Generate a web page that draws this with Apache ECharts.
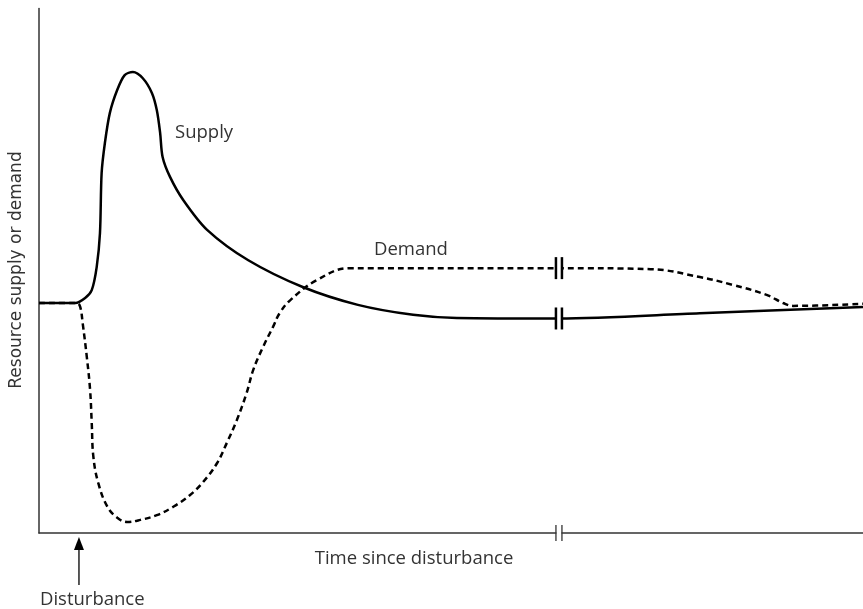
<!DOCTYPE html>
<html>
<head>
<meta charset="utf-8">
<script src="https://cdn.jsdelivr.net/npm/echarts@6/dist/echarts.min.js"></script>
<style>
html,body{margin:0;padding:0;background:#fff;}
#chart{width:863px;height:609px;}
</style>
</head>
<body>
<div id="chart"></div>
<script>
// ---- data (arbitrary units: time 0..100, level 0..100) ----
const supplyTime = [0, 4.4, 5.6, 6.4, 7.0, 7.4, 7.6, 8.0, 8.6, 9.5, 10.4, 11.4, 12.6, 13.7, 14.3, 14.7, 15.0, 15.9, 17.5, 20.4, 25.4, 32.0, 38.7, 45.4, 50.7, 63.1, 80.2, 100];
const supplyLevel = [43.85, 43.85, 44.8, 46.3, 50.7, 57.2, 68.6, 74.4, 80.1, 84.5, 87.3, 87.9, 86.7, 83.9, 80.6, 76.3, 71.7, 67.9, 63.5, 57.8, 52.0, 46.9, 43.5, 41.6, 41.0, 40.9, 41.9, 43.1];
const demandTime = [0, 4.6, 5.0, 5.3, 5.8, 6.2, 6.4, 6.6, 7.2, 8.3, 9.5, 10.7, 12.3, 14.3, 16.3, 18.3, 19.9, 21.6, 22.8, 24.0, 25.2, 26.0, 27.2, 28.4, 29.2, 30.5, 33.7, 37.7, 63.1, 74.2, 80.2, 84.2, 88.3, 90.3, 91.5, 100];
const demandLevel = [43.85, 43.85, 43.1, 40.0, 33.6, 27.3, 20.97, 14.5, 9.5, 5.0, 2.9, 2.1, 2.5, 3.4, 5.0, 7.2, 9.7, 13.3, 17.2, 21.5, 26.7, 31.1, 35.5, 39.3, 41.9, 44.4, 48.2, 50.5, 50.5, 50.3, 48.8, 47.3, 45.4, 43.85, 43.3, 43.7];
const breakTime = 63.1;
const disturbanceTime = 4.85;
const curveBreaks = [[breakTime, 40.9], [breakTime, 50.5]];
const axisBreaks = [[breakTime, 0]];
const disturbanceMark = [[disturbanceTime, 0]];
const xAxisTitle = 'Time since disturbance';
const yAxisTitle = 'Resource supply or demand';
const supplyName = 'Supply';
const demandName = 'Demand';
const disturbanceName = 'Disturbance';

const zip = (a, b) => a.map((v, i) => [v, b[i]]);
const FONT = '"Open Sans", sans-serif';
const TXT = '#333';

const chart = echarts.init(document.getElementById('chart'), null, {renderer: 'canvas'});
chart.setOption({
  animation: false,
  backgroundColor: '#fff',
  grid: {left: 39, right: 0, top: 8.5, bottom: 76},
  xAxis: {
    type: 'value', min: 0, max: 100,
    axisLine: {show: true, lineStyle: {color: '#333', width: 1.5}},
    axisTick: {show: false}, axisLabel: {show: false}, splitLine: {show: false}
  },
  yAxis: {
    type: 'value', min: 0, max: 100,
    axisLine: {show: true, lineStyle: {color: '#333', width: 1.5}},
    axisTick: {show: false}, axisLabel: {show: false}, splitLine: {show: false}
  },
  series: [
    {
      name: supplyName, type: 'line', data: zip(supplyTime, supplyLevel),
      showSymbol: false, smooth: 0.3, z: 3,
      lineStyle: {color: '#000', width: 2.5}
    },
    {
      name: demandName, type: 'line', data: zip(demandTime, demandLevel),
      showSymbol: false, smooth: 0.4, z: 3,
      lineStyle: {color: '#000', width: 2.5, type: [6, 4]}
    },
    {
      type: 'custom', data: curveBreaks, clip: false, z: 10,
      renderItem: function (params, api) {
        const p = api.coord([api.value(0), api.value(1)]);
        return {type: 'group', children: [
          {type: 'rect', shape: {x: p[0] - 2.5, y: p[1] - 4, width: 5, height: 8}, style: {fill: '#fff'}},
          {type: 'line', shape: {x1: p[0] - 3, y1: p[1] - 11, x2: p[0] - 3, y2: p[1] + 11}, style: {stroke: '#000', lineWidth: 2.5}},
          {type: 'line', shape: {x1: p[0] + 3, y1: p[1] - 11, x2: p[0] + 3, y2: p[1] + 11}, style: {stroke: '#000', lineWidth: 2.5}}
        ]};
      }
    },
    {
      type: 'custom', data: axisBreaks, clip: false, z: 10,
      renderItem: function (params, api) {
        const p = api.coord([api.value(0), api.value(1)]);
        return {type: 'group', children: [
          {type: 'rect', shape: {x: p[0] - 2.5, y: p[1] - 3, width: 5, height: 6}, style: {fill: '#fff'}},
          {type: 'line', shape: {x1: p[0] - 3, y1: p[1] - 8, x2: p[0] - 3, y2: p[1] + 8}, style: {stroke: '#333', lineWidth: 1.3}},
          {type: 'line', shape: {x1: p[0] + 3, y1: p[1] - 8, x2: p[0] + 3, y2: p[1] + 8}, style: {stroke: '#333', lineWidth: 1.3}}
        ]};
      }
    },
    {
      type: 'custom', data: disturbanceMark, clip: false, z: 10,
      renderItem: function (params, api) {
        const p = api.coord([api.value(0), api.value(1)]);
        return {type: 'group', children: [
          {type: 'line', shape: {x1: p[0], y1: p[1] + 14, x2: p[0], y2: p[1] + 52}, style: {stroke: '#222', lineWidth: 1.5}},
          {type: 'polygon', shape: {points: [[p[0], p[1] + 4], [p[0] - 5, p[1] + 17], [p[0] + 5, p[1] + 17]]}, style: {fill: '#000'}}
        ]};
      }
    }
  ],
  graphic: [
    {type: 'text', x: 175, y: 133, style: {text: supplyName, font: '18.5px ' + FONT, fill: TXT, align: 'left', verticalAlign: 'middle'}},
    {type: 'text', x: 374, y: 250, style: {text: demandName, font: '18.5px ' + FONT, fill: TXT, align: 'left', verticalAlign: 'middle'}},
    {type: 'text', x: 414, y: 559, style: {text: xAxisTitle, font: '18.5px ' + FONT, fill: TXT, align: 'center', verticalAlign: 'middle'}},
    {type: 'text', x: 40, y: 600, style: {text: disturbanceName, font: '18.5px ' + FONT, fill: TXT, align: 'left', verticalAlign: 'middle'}},
    {type: 'text', x: 17, y: 270, rotation: Math.PI / 2, style: {text: yAxisTitle, font: '17px "DejaVu Sans", sans-serif', fill: TXT, align: 'center', verticalAlign: 'middle'}}
  ]
});
</script>
</body>
</html>
